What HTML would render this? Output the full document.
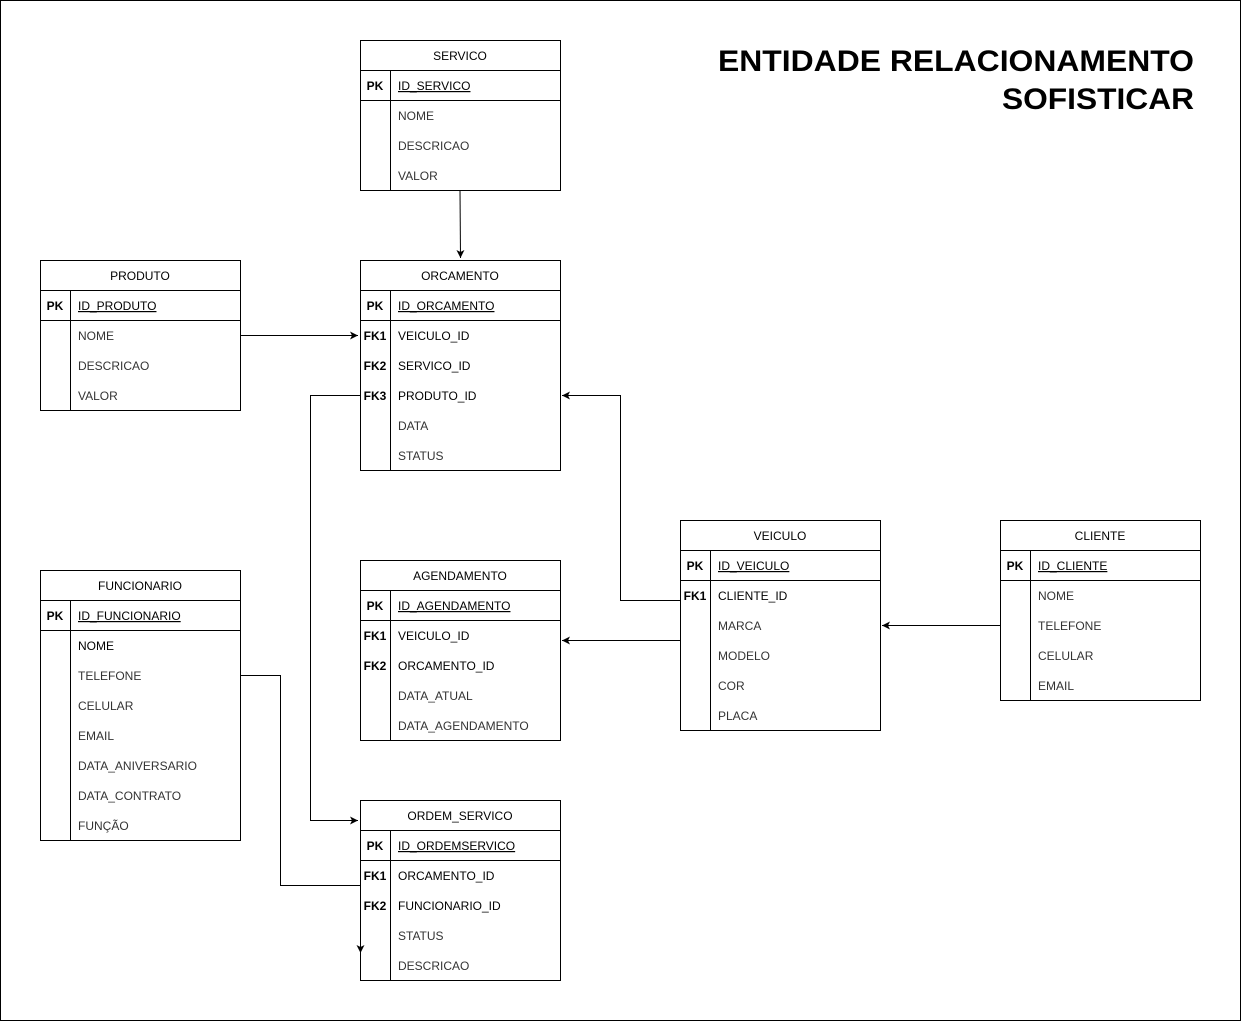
<!DOCTYPE html>
<html><head><meta charset="utf-8"><style>
html,body{margin:0;padding:0;background:#fff}
svg{display:block}
text{font-family:"Liberation Sans",Arial,sans-serif;font-size:12px}
.h{text-anchor:middle;fill:#000}
.k{text-anchor:middle;font-weight:bold;fill:#000}
.f{fill:#333}
.b{fill:#000}
.u{text-decoration:underline;fill:#000}
rect,.t{fill:none;stroke:#000;stroke-width:1}
.e{fill:none;stroke:#000;stroke-width:1}
</style></head><body>
<svg width="1242" height="1022" viewBox="0 0 1242 1022" xmlns="http://www.w3.org/2000/svg">
<defs><marker id="a" markerWidth="10" markerHeight="10" refX="8" refY="4" orient="auto" markerUnits="userSpaceOnUse"><path d="M0,0 L8,4 L0,8 L2,4 z" fill="#000"/></marker></defs>
<rect x="0.5" y="0.5" width="1240" height="1020" fill="#fff"/>

<text x="1194" y="71" text-anchor="end" style="font-size:30px;font-weight:bold" textLength="476" lengthAdjust="spacingAndGlyphs">ENTIDADE RELACIONAMENTO</text>
<text x="1194" y="109" text-anchor="end" style="font-size:30px;font-weight:bold" textLength="192" lengthAdjust="spacingAndGlyphs">SOFISTICAR</text>

<!-- edges -->
<path class="e" d="M460,190 L460.5,258" marker-end="url(#a)"/>
<path class="e" d="M240,335.5 L358,335.5" marker-end="url(#a)"/>
<path class="e" d="M360,395.5 L310.5,395.5 L310.5,820.5 L358,820.5" marker-end="url(#a)"/>
<path class="e" d="M680,600.5 L620.5,600.5 L620.5,395.5 L562,395.5" marker-end="url(#a)"/>
<path class="e" d="M680,640.5 L562,640.5" marker-end="url(#a)"/>
<path class="e" d="M1000,625.5 L882,625.5" marker-end="url(#a)"/>
<path class="e" d="M240,675.5 L280.5,675.5 L280.5,885.5 L360.5,885.5 L360.5,953" marker-end="url(#a)"/>

<!-- SERVICO -->
<g><rect x="360.5" y="40.5" width="200" height="150" fill="#fff"/>
<path class="t" d="M360,70.5H560M360,100.5H560M390.5,70V190"/>
<text class="h" x="460" y="60">SERVICO</text>
<text class="k" x="375" y="90">PK</text><text class="u" x="398" y="90">ID_SERVICO</text>
<text class="f" x="398" y="120">NOME</text>
<text class="f" x="398" y="150">DESCRICAO</text>
<text class="f" x="398" y="180">VALOR</text></g>

<!-- PRODUTO -->
<g><rect x="40.5" y="260.5" width="200" height="150" fill="#fff"/>
<path class="t" d="M40,290.5H240M40,320.5H240M70.5,290V410"/>
<text class="h" x="140" y="280">PRODUTO</text>
<text class="k" x="55" y="310">PK</text><text class="u" x="78" y="310">ID_PRODUTO</text>
<text class="f" x="78" y="340">NOME</text>
<text class="f" x="78" y="370">DESCRICAO</text>
<text class="f" x="78" y="400">VALOR</text></g>

<!-- ORCAMENTO -->
<g><rect x="360.5" y="260.5" width="200" height="210" fill="#fff"/>
<path class="t" d="M360,290.5H560M360,320.5H560M390.5,290V470"/>
<text class="h" x="460" y="280">ORCAMENTO</text>
<text class="k" x="375" y="310">PK</text><text class="u" x="398" y="310">ID_ORCAMENTO</text>
<text class="k" x="375" y="340">FK1</text><text class="b" x="398" y="340">VEICULO_ID</text>
<text class="k" x="375" y="370">FK2</text><text class="b" x="398" y="370">SERVICO_ID</text>
<text class="k" x="375" y="400">FK3</text><text class="b" x="398" y="400">PRODUTO_ID</text>
<text class="f" x="398" y="430">DATA</text>
<text class="f" x="398" y="460">STATUS</text></g>

<!-- FUNCIONARIO -->
<g><rect x="40.5" y="570.5" width="200" height="270" fill="#fff"/>
<path class="t" d="M40,600.5H240M40,630.5H240M70.5,600V840"/>
<text class="h" x="140" y="590">FUNCIONARIO</text>
<text class="k" x="55" y="620">PK</text><text class="u" x="78" y="620">ID_FUNCIONARIO</text>
<text class="b" x="78" y="650">NOME</text>
<text class="f" x="78" y="680">TELEFONE</text>
<text class="f" x="78" y="710">CELULAR</text>
<text class="f" x="78" y="740">EMAIL</text>
<text class="f" x="78" y="770">DATA_ANIVERSARIO</text>
<text class="f" x="78" y="800">DATA_CONTRATO</text>
<text class="f" x="78" y="830">FUNÇÃO</text></g>

<!-- AGENDAMENTO -->
<g><rect x="360.5" y="560.5" width="200" height="180" fill="#fff"/>
<path class="t" d="M360,590.5H560M360,620.5H560M390.5,590V740"/>
<text class="h" x="460" y="580">AGENDAMENTO</text>
<text class="k" x="375" y="610">PK</text><text class="u" x="398" y="610">ID_AGENDAMENTO</text>
<text class="k" x="375" y="640">FK1</text><text class="b" x="398" y="640">VEICULO_ID</text>
<text class="k" x="375" y="670">FK2</text><text class="b" x="398" y="670">ORCAMENTO_ID</text>
<text class="f" x="398" y="700">DATA_ATUAL</text>
<text class="f" x="398" y="730">DATA_AGENDAMENTO</text></g>

<!-- VEICULO -->
<g><rect x="680.5" y="520.5" width="200" height="210" fill="#fff"/>
<path class="t" d="M680,550.5H880M680,580.5H880M710.5,550V730"/>
<text class="h" x="780" y="540">VEICULO</text>
<text class="k" x="695" y="570">PK</text><text class="u" x="718" y="570">ID_VEICULO</text>
<text class="k" x="695" y="600">FK1</text><text class="b" x="718" y="600">CLIENTE_ID</text>
<text class="f" x="718" y="630">MARCA</text>
<text class="f" x="718" y="660">MODELO</text>
<text class="f" x="718" y="690">COR</text>
<text class="f" x="718" y="720">PLACA</text></g>

<!-- CLIENTE -->
<g><rect x="1000.5" y="520.5" width="200" height="180" fill="#fff"/>
<path class="t" d="M1000,550.5H1200M1000,580.5H1200M1030.5,550V700"/>
<text class="h" x="1100" y="540">CLIENTE</text>
<text class="k" x="1015" y="570">PK</text><text class="u" x="1038" y="570">ID_CLIENTE</text>
<text class="f" x="1038" y="600">NOME</text>
<text class="f" x="1038" y="630">TELEFONE</text>
<text class="f" x="1038" y="660">CELULAR</text>
<text class="f" x="1038" y="690">EMAIL</text></g>

<!-- ORDEM_SERVICO -->
<g><rect x="360.5" y="800.5" width="200" height="180" fill="none"/>
<path class="t" d="M360,830.5H560M360,860.5H560M390.5,830V980"/>
<text class="h" x="460" y="820">ORDEM_SERVICO</text>
<text class="k" x="375" y="850">PK</text><text class="u" x="398" y="850">ID_ORDEMSERVICO</text>
<text class="k" x="375" y="880">FK1</text><text class="b" x="398" y="880">ORCAMENTO_ID</text>
<text class="k" x="375" y="910">FK2</text><text class="b" x="398" y="910">FUNCIONARIO_ID</text>
<text class="f" x="398" y="940">STATUS</text>
<text class="f" x="398" y="970">DESCRICAO</text></g>
</svg>
</body></html>
